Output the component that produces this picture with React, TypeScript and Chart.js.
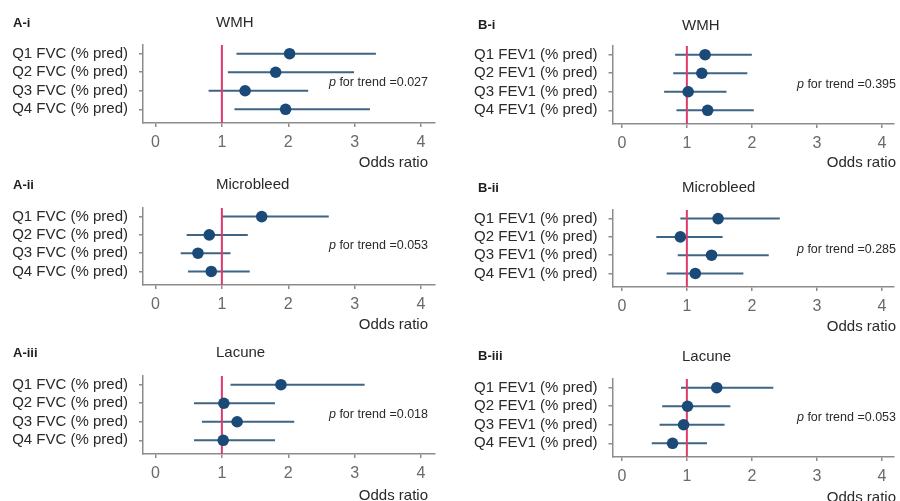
import React, { useEffect, useRef } from 'react';
import { Chart, registerables } from 'chart.js';

Chart.register(...registerables);

const FAM = 'Arial, "Liberation Sans", Helvetica, sans-serif';

// ---------- data ----------
const fvcLabels = ['Q1 FVC (% pred)', 'Q2 FVC (% pred)', 'Q3 FVC (% pred)', 'Q4 FVC (% pred)'];
const fev1Labels = ['Q1 FEV1 (% pred)', 'Q2 FEV1 (% pred)', 'Q3 FEV1 (% pred)', 'Q4 FEV1 (% pred)'];
const xTickValues = [0, 1, 2, 3, 4];
const referenceOR = 1;

const wmhFvcOR = [2.02, 1.81, 1.35, 1.96];
const wmhFvcLow = [1.22, 1.09, 0.8, 1.19];
const wmhFvcHigh = [3.32, 2.99, 2.3, 3.23];

const mbFvcOR = [1.6, 0.81, 0.64, 0.84];
const mbFvcLow = [1.0, 0.47, 0.38, 0.49];
const mbFvcHigh = [2.61, 1.39, 1.13, 1.42];

const lacFvcOR = [1.89, 1.03, 1.23, 1.02];
const lacFvcLow = [1.13, 0.58, 0.7, 0.58];
const lacFvcHigh = [3.15, 1.8, 2.09, 1.8];

const wmhFev1OR = [1.28, 1.23, 1.02, 1.32];
const wmhFev1Low = [0.82, 0.79, 0.65, 0.84];
const wmhFev1High = [2.0, 1.93, 1.61, 2.03];

const mbFev1OR = [1.48, 0.9, 1.38, 1.13];
const mbFev1Low = [0.9, 0.53, 0.86, 0.69];
const mbFev1High = [2.43, 1.55, 2.26, 1.87];

const lacFev1OR = [1.46, 1.01, 0.95, 0.78];
const lacFev1Low = [0.91, 0.62, 0.58, 0.46];
const lacFev1High = [2.33, 1.67, 1.58, 1.31];

const panelIds = ['A-i', 'A-ii', 'A-iii', 'B-i', 'B-ii', 'B-iii'];
const outcomes = ['WMH', 'Microbleed', 'Lacune', 'WMH', 'Microbleed', 'Lacune'];
const pTrends = ['0.027', '0.053', '0.018', '0.395', '0.285', '0.053'];

// ---------- layout (positions / styles) ----------
const columns = [
  { left: 0, yAxisWidth: 143, rightPad: 15, xMin: -0.188, xMax: 4.21, labelX: 13, titleX: 216, rightX: 428 },
  { left: 450, yAxisWidth: 162.5, rightPad: 1, xMin: -0.144, xMax: 4.19, labelX: 478, titleX: 682, rightX: 896 },
];

const panelGeo = [
  { col: 0, top: 45, bottom: 123, labelY: 23.5, titleY: 23, pY: 82.7, oddsY: 162.5 },
  { col: 0, top: 208, bottom: 285, labelY: 185, titleY: 185, pY: 246, oddsY: 325 },
  { col: 0, top: 376, bottom: 454, labelY: 353, titleY: 353.3, pY: 415, oddsY: 496 },
  { col: 1, top: 46, bottom: 124, labelY: 25.5, titleY: 25.7, pY: 85, oddsY: 163.3 },
  { col: 1, top: 210, bottom: 287, labelY: 188, titleY: 188, pY: 249.3, oddsY: 326.7 },
  { col: 1, top: 379, bottom: 457, labelY: 356.5, titleY: 356.7, pY: 417.7, oddsY: 498.3 },
];

const panelData = [
  { labels: fvcLabels, or: wmhFvcOR, low: wmhFvcLow, high: wmhFvcHigh },
  { labels: fvcLabels, or: mbFvcOR, low: mbFvcLow, high: mbFvcHigh },
  { labels: fvcLabels, or: lacFvcOR, low: lacFvcLow, high: lacFvcHigh },
  { labels: fev1Labels, or: wmhFev1OR, low: wmhFev1Low, high: wmhFev1High },
  { labels: fev1Labels, or: mbFev1OR, low: mbFev1Low, high: mbFev1High },
  { labels: fev1Labels, or: lacFev1OR, low: lacFev1Low, high: lacFev1High },
];

const Y_MIN = 0.53;
const Y_MAX = 4.74;
const PAD_TOP = 45;
const X_AXIS_H = 48;

const CI_COLOR = '#3f6585';
const DOT_COLOR = '#1b4a78';
const REF_COLOR = '#de3a6b';
const AXIS_COLOR = '#8c8c8c';

function Panel({ idx }: { idx: number }) {
  const ref = useRef<HTMLCanvasElement>(null);
  const geo = panelGeo[idx];
  const col = columns[geo.col];
  const d = panelData[idx];
  const canvasTop = geo.top - PAD_TOP;
  const canvasH = geo.bottom - geo.top + PAD_TOP + X_AXIS_H;

  useEffect(() => {
    const canvas = ref.current;
    if (!canvas) return;
    const ox = col.left;
    const oy = canvasTop;

    const ciSets = d.or.map((_, i) => ({
      type: 'line' as const,
      data: [
        { x: d.low[i], y: i + 1 },
        { x: d.high[i], y: i + 1 },
      ],
      borderColor: CI_COLOR,
      borderWidth: 2,
      pointRadius: 0,
      showLine: true,
      fill: false,
      order: 2,
    }));

    const refSet = {
      type: 'line' as const,
      data: [
        { x: referenceOR, y: Y_MIN },
        { x: referenceOR, y: Y_MAX },
      ],
      borderColor: REF_COLOR,
      borderWidth: 2,
      pointRadius: 0,
      showLine: true,
      fill: false,
      order: 1,
    };

    const dotSet = {
      type: 'scatter' as const,
      data: d.or.map((v, i) => ({ x: v, y: i + 1 })),
      backgroundColor: DOT_COLOR,
      borderColor: DOT_COLOR,
      borderWidth: 0,
      pointRadius: 5.8,
      showLine: false,
      order: 0,
    };

    const annot = {
      id: 'annot' + idx,
      afterDraw(chart: any) {
        const ctx = chart.ctx as CanvasRenderingContext2D;
        ctx.save();
        ctx.textBaseline = 'middle';
        ctx.textAlign = 'left';
        ctx.fillStyle = '#1e1e1e';
        ctx.font = 'bold 13px ' + FAM;
        ctx.fillText(panelIds[idx], col.labelX - ox, geo.labelY - oy);
        ctx.fillStyle = '#2a2a2a';
        ctx.font = '15px ' + FAM;
        ctx.fillText(outcomes[idx], col.titleX - ox, geo.titleY - oy);
        // p for trend
        ctx.font = '12.5px ' + FAM;
        const rest = ' for trend =' + pTrends[idx];
        const wRest = ctx.measureText(rest).width;
        ctx.fillText(rest, col.rightX - wRest - ox, geo.pY - oy);
        ctx.font = 'italic 12.5px ' + FAM;
        const wp = ctx.measureText('p').width;
        ctx.fillText('p', col.rightX - wRest - wp - ox, geo.pY - oy);
        // axis title
        ctx.font = '15px ' + FAM;
        ctx.textAlign = 'right';
        ctx.fillText('Odds ratio', col.rightX - ox, geo.oddsY - oy);
        ctx.restore();
      },
    };

    const chart = new Chart(canvas, {
      type: 'scatter',
      data: { datasets: [...ciSets, refSet, dotSet] as any },
      options: {
        animation: false,
        responsive: false,
        devicePixelRatio: 1,
        events: [],
        layout: { padding: { top: PAD_TOP, bottom: 0, left: 0, right: col.rightPad } },
        plugins: { legend: { display: false }, tooltip: { enabled: false }, title: { display: false } },
        scales: {
          x: {
            type: 'linear',
            position: 'bottom',
            min: col.xMin,
            max: col.xMax,
            afterBuildTicks: (s: any) => {
              s.ticks = xTickValues.map((v) => ({ value: v }));
            },
            afterFit: (s: any) => {
              s.height = X_AXIS_H;
            },
            ticks: {
              autoSkip: false,
              maxRotation: 0,
              padding: 6,
              color: '#6a6a6a',
              font: { size: 16, family: FAM },
              callback: (v: any) => String(v),
            },
            grid: { display: true, drawOnChartArea: false, drawTicks: true, tickLength: 4, color: AXIS_COLOR, lineWidth: 1.5 },
            border: { display: true, color: AXIS_COLOR, width: 1.5 },
          },
          y: {
            type: 'linear',
            position: 'left',
            reverse: true,
            min: Y_MIN,
            max: Y_MAX,
            afterBuildTicks: (s: any) => {
              s.ticks = d.labels.map((_, i) => ({ value: i + 1 }));
            },
            afterFit: (s: any) => {
              s.width = col.yAxisWidth;
            },
            ticks: {
              autoSkip: false,
              padding: 11,
              color: '#2a2a2a',
              font: { size: 15, family: FAM },
              callback: (v: any) => d.labels[Math.round(Number(v)) - 1] ?? '',
            },
            grid: { display: true, drawOnChartArea: false, drawTicks: true, tickLength: 4, color: AXIS_COLOR, lineWidth: 1.5 },
            border: { display: true, color: AXIS_COLOR, width: 1.5 },
          },
        },
      },
      plugins: [annot],
    } as any);

    return () => chart.destroy();
  }, [idx]);

  return (
    <canvas
      ref={ref}
      width={450}
      height={canvasH}
      style={{ position: 'absolute', left: col.left, top: canvasTop, width: 450, height: canvasH }}
    />
  );
}

export default function App() {
  return (
    <div
      style={{
        position: 'absolute',
        left: 0,
        top: 0,
        width: 900,
        height: 501,
        overflow: 'hidden',
        background: '#ffffff',
      }}
    >
      {panelIds.map((_, i) => (
        <Panel key={i} idx={i} />
      ))}
    </div>
  );
}
